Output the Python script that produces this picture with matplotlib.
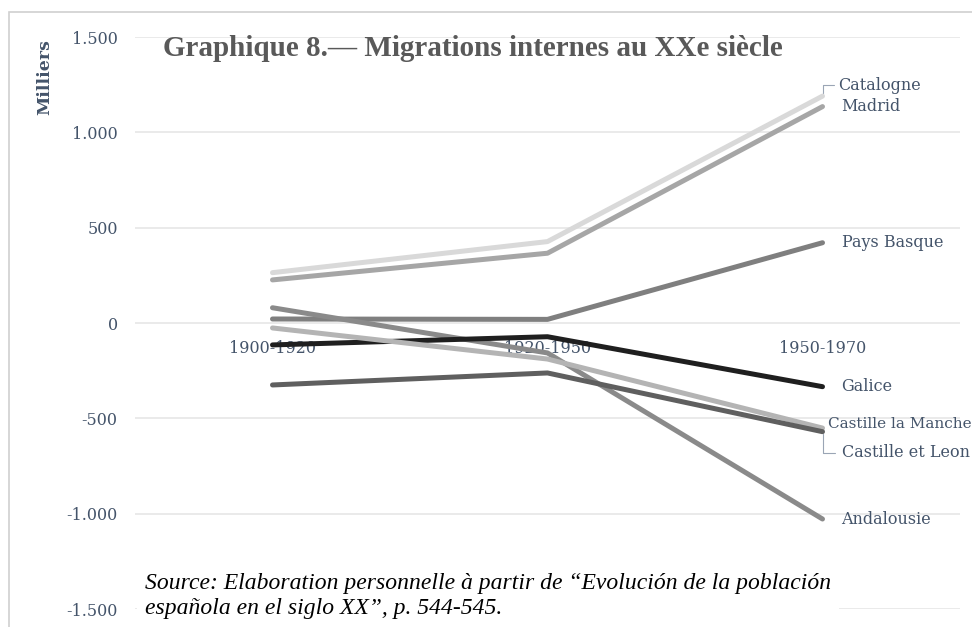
import matplotlib.pyplot as plt
from matplotlib.ticker import FuncFormatter
from matplotlib.patches import Rectangle

# Periods and net migration (thousands) per region
periods = ["1900-1920", "1920-1950", "1950-1970"]
catalogne = [264, 427, 1190]
madrid = [226, 366, 1135]
pays_basque = [21, 19, 421]
andalousie = [80, -157, -1028]
galice = [-115, -72, -334]
castille_manche = [-26, -189, -551]
castille_leon = [-325, -262, -570]

series = [
    ("Catalogne", catalogne, "#d9d9d9"),
    ("Madrid", madrid, "#a6a6a6"),
    ("Pays Basque", pays_basque, "#7f7f7f"),
    ("Andalousie", andalousie, "#8a8a8a"),
    ("Galice", galice, "#1f1f1f"),
    ("Castille la Manche", castille_manche, "#b4b4b4"),
    ("Castille et Leon", castille_leon, "#5f5f5f"),
]

# label offsets in pixels (dx, dy) relative to last point, and font size
label_offsets = {
    "Catalogne": (16, 11, 11.5),
    "Madrid": (19, 0, 11.5),
    "Pays Basque": (19, 0, 11.5),
    "Andalousie": (19, 0, 11.5),
    "Galice": (19, 0, 11.5),
    "Castille la Manche": (5, 4, 11),
    "Castille et Leon": (19, -21, 11.5),
}

txt_color = "#44546a"

fig = plt.figure(figsize=(9.72, 6.27), dpi=100)
fig.patches.append(Rectangle((9 / 972, -0.1), 1.2, 1 - 12 / 627 + 0.1,
                             transform=fig.transFigure, fill=False,
                             edgecolor="#d0d0d0", lw=1.2))
ax = fig.add_axes([135 / 972, 1 - 609 / 627, 825 / 972, 572 / 627])

x = list(range(len(periods)))
for name, vals, col in series:
    ax.plot(x, vals, color=col, lw=3.6, solid_capstyle="round", zorder=2)
    dx, dy, fs = label_offsets[name]
    ax.annotate(name, (x[-1], vals[-1]), xytext=(dx * 0.72, dy * 0.72),
                textcoords="offset points", va="center", ha="left",
                fontsize=fs, family="DejaVu Serif", color=txt_color,
                annotation_clip=False)

# leader lines for crowded labels
ax.annotate("", (x[-1], catalogne[-1]), xytext=(10, 11 * 0.72),
            textcoords="offset points",
            arrowprops=dict(arrowstyle="-", color="#9aa5b5", lw=0.8,
                            connectionstyle="angle,angleA=0,angleB=90,rad=0"))
ax.annotate("", (x[-1], castille_leon[-1]), xytext=(11, -21 * 0.72),
            textcoords="offset points",
            arrowprops=dict(arrowstyle="-", color="#9aa5b5", lw=0.8,
                            connectionstyle="angle,angleA=0,angleB=90,rad=0"))

ax.set_xlim(-0.5, 2.5)
ax.set_ylim(-1500, 1500)
ax.set_yticks([-1500, -1000, -500, 0, 500, 1000, 1500])
ax.yaxis.set_major_formatter(FuncFormatter(lambda v, p: f"{int(v):,}".replace(",", ".")))
ax.grid(axis="y", color="#e6e6e6", lw=1.2, zorder=0)
ax.set_axisbelow(True)
for s in ax.spines.values():
    s.set_visible(False)
ax.spines["bottom"].set_position(("data", 0))
ax.set_xticks(x)
ax.set_xticklabels(periods)
ax.tick_params(axis="both", length=0, labelsize=11.5, labelcolor=txt_color)
ax.tick_params(axis="x", pad=12)
ax.tick_params(axis="y", pad=12.5)
for lab in ax.get_xticklabels() + ax.get_yticklabels():
    lab.set_family("DejaVu Serif")
for lab in ax.get_xticklabels():
    lab.set_zorder(5)

fig.text(45 / 972, 1 - 77 / 627, "Milliers", rotation=90, ha="center", va="center",
         fontsize=12.5, fontweight="bold", family="DejaVu Serif", color=txt_color)

fig.text(163 / 972, 1 - 48 / 627, "Graphique 8.\u2014 Migrations internes au XXe si\u00e8cle",
         ha="left", va="center", fontsize=21, fontweight="bold",
         family="Liberation Serif", color="#595959")

fig.text(145 / 972, 1 - 596 / 627,
         "Source: Elaboration personnelle \u00e0 partir de \u201cEvoluci\u00f3n de la poblaci\u00f3n\n"
         "espa\u00f1ola en el siglo XX\u201d, p. 544-545.",
         ha="left", va="center", fontsize=17, style="italic",
         family="Liberation Serif", color="black", linespacing=1.2,
         bbox=dict(facecolor="white", edgecolor="none", pad=6))

fig.savefig("out.png", dpi=100)
